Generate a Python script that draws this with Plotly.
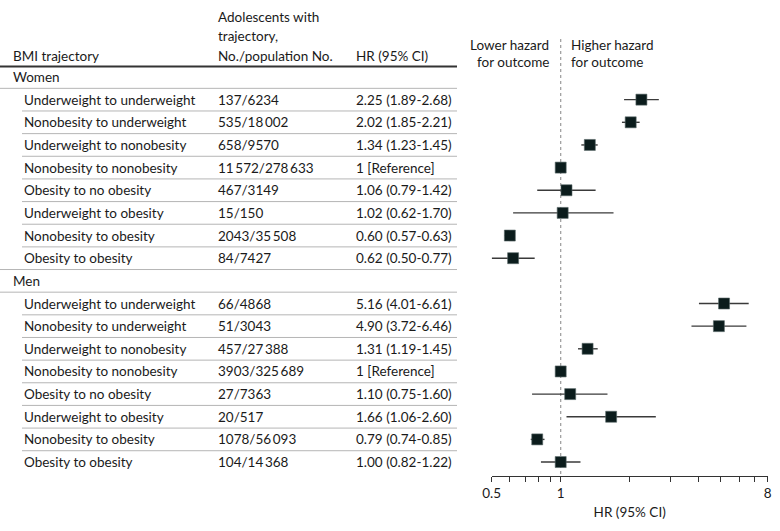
import plotly.graph_objects as go

# ---------------- data ----------------
groups = ["Women", "Men"]
trajectories = [
    "Underweight to underweight",
    "Nonobesity to underweight",
    "Underweight to nonobesity",
    "Nonobesity to nonobesity",
    "Obesity to no obesity",
    "Underweight to obesity",
    "Nonobesity to obesity",
    "Obesity to obesity",
]
T = "\u2009"
women_counts = ["137/6234", f"535/18{T}002", "658/9570", f"11{T}572/278{T}633",
                "467/3149", "15/150", f"2043/35{T}508", "84/7427"]
men_counts = ["66/4868", "51/3043", f"457/27{T}388", f"3903/325{T}689",
              "27/7363", "20/517", f"1078/56{T}093", f"104/14{T}368"]
women_hr = [2.25, 2.02, 1.34, 1.00, 1.06, 1.02, 0.60, 0.62]
women_lo = [1.89, 1.85, 1.23, None, 0.79, 0.62, 0.57, 0.50]
women_hi = [2.68, 2.21, 1.45, None, 1.42, 1.70, 0.63, 0.77]
men_hr = [5.16, 4.90, 1.31, 1.00, 1.10, 1.66, 0.79, 1.00]
men_lo = [4.01, 3.72, 1.19, None, 0.75, 1.06, 0.74, 0.82]
men_hi = [6.61, 6.46, 1.45, None, 1.60, 2.60, 0.85, 1.22]

tick_vals = [0.5, 0.6, 0.7, 0.8, 0.9, 1, 2, 3, 4, 5, 6, 7, 8]
tick_text = ["0.5", "", "", "", "", "1", "", "", "", "", "", "", "8"]

# ---------------- layout helpers ----------------
W, H = 780, 531
FONT = "Lato, 'Open Sans', sans-serif"
FS = 13.5
TXT = "#1a1a1a"
ROW0_PX, ROW_PX = 77.0, 22.65
AXIS_PX = 476.0
Y_TOP = (0 - ROW0_PX) / ROW_PX
Y_BOT = (AXIS_PX - ROW0_PX) / ROW_PX


def px2paper_x(p):
    return p / W


def px2paper_y(p):
    return 1 - p / H


rows = []  # (kind, label, count, hrtext, hr, lo, hi)
for g, counts, hrs, los, his in [
    (groups[0], women_counts, women_hr, women_lo, women_hi),
    (groups[1], men_counts, men_hr, men_lo, men_hi),
]:
    rows.append(("group", g, "", "", None, None, None))
    for k, name in enumerate(trajectories):
        if los[k] is None:
            txt = "1 [Reference]"
        else:
            txt = f"{hrs[k]:.2f} ({los[k]:.2f}-{his[k]:.2f})"
        rows.append(("row", name, counts[k], txt, hrs[k], los[k], his[k]))

fig = go.Figure()

# dotted reference line at HR = 1
fig.add_trace(go.Scatter(
    x=[1, 1], y=[(39 - ROW0_PX) / ROW_PX, Y_BOT], mode="lines",
    line=dict(color="#9a9a9a", width=1.2, dash="dot"),
    hoverinfo="skip", showlegend=False))

xs, ys, ep, em = [], [], [], []
for i, r in enumerate(rows):
    if r[0] != "row":
        continue
    hr, lo, hi = r[4], r[5], r[6]
    xs.append(hr)
    ys.append(i)
    ep.append(0 if hi is None else hi - hr)
    em.append(0 if lo is None else hr - lo)

fig.add_trace(go.Scatter(
    x=xs, y=ys, mode="markers",
    marker=dict(symbol="square", size=11, color="#0b1c1c",
                line=dict(color="#5a6a6a", width=0.6)),
    error_x=dict(type="data", array=ep, arrayminus=em, symmetric=False,
                 color="#3a3a3a", thickness=1.4, width=0),
    showlegend=False, hoverinfo="skip"))

annotations = []
shapes = []


def add_text(x_px, y, text, xanchor="left", yref="y", size=FS):
    annotations.append(dict(
        x=px2paper_x(x_px), xref="paper", y=y, yref=yref, text=text,
        showarrow=False, xanchor=xanchor, yanchor="middle",
        font=dict(family=FONT, size=size, color=TXT)))


# header
add_text(11, px2paper_y(56), "BMI trajectory", yref="paper")
add_text(216, px2paper_y(17), "Adolescents with", yref="paper")
add_text(216, px2paper_y(36.5), "trajectory,", yref="paper")
add_text(216, px2paper_y(56), "No./population No.", yref="paper")
add_text(354, px2paper_y(56), "HR (95% CI)", yref="paper")
add_text(551, px2paper_y(45), "Lower hazard", xanchor="right", yref="paper")
add_text(551, px2paper_y(62), "for outcome", xanchor="right", yref="paper")
add_text(569, px2paper_y(45), "Higher hazard", yref="paper")
add_text(569, px2paper_y(62), "for outcome", yref="paper")

shapes.append(dict(type="line", xref="paper", yref="paper",
                   x0=0, x1=px2paper_x(457), y0=px2paper_y(66.5), y1=px2paper_y(66.5),
                   line=dict(color="#333333", width=2)))

for i, r in enumerate(rows):
    if r[0] == "group":
        add_text(11, i, r[1])
    else:
        add_text(22, i, r[1])
        add_text(216, i, r[2])
        add_text(354, i, r[3])
    if i < len(rows) - 1:
        nxt = rows[i + 1]
        x0 = 0 if (r[0] == "group" or nxt[0] == "group") else 22
        shapes.append(dict(type="line", xref="paper", yref="y",
                           x0=px2paper_x(x0), x1=px2paper_x(457),
                           y0=i + 0.5, y1=i + 0.5,
                           line=dict(color="#b5b5b5", width=1)))

x_left, x_right = 491.7, 767.7
fig.update_layout(
    width=W, height=H,
    margin=dict(l=0, r=0, t=0, b=0),
    paper_bgcolor="white", plot_bgcolor="white",
    template="none",
    showlegend=False,
    annotations=annotations,
    shapes=shapes,
    xaxis=dict(
        type="log", domain=[x_left / W, x_right / W],
        range=[-0.30103, 0.90309],
        tickvals=tick_vals, ticktext=tick_text,
        ticks="outside", ticklen=5, tickwidth=1, tickcolor="#333333",
        showline=True, linecolor="#333333", linewidth=1,
        showgrid=False, zeroline=False, automargin=False,
        tickfont=dict(family=FONT, size=FS, color=TXT),
        title=dict(text="HR (95% CI)", standoff=7,
                   font=dict(family=FONT, size=FS, color=TXT)),
    ),
    yaxis=dict(
        domain=[(H - AXIS_PX) / H, 1],
        range=[Y_BOT, Y_TOP],
        visible=False, showgrid=False, zeroline=False, automargin=False,
    ),
)

fig.write_html("out.html")
